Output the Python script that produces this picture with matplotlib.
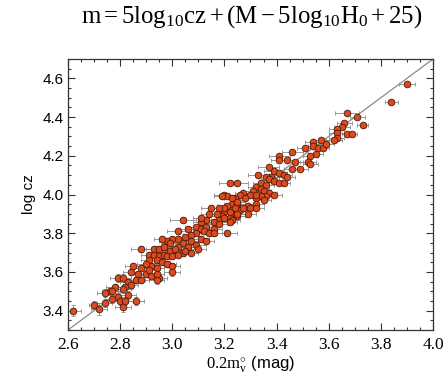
import matplotlib
matplotlib.use("Agg")
import matplotlib.pyplot as plt
from matplotlib.ticker import MultipleLocator

plt.rcParams['mathtext.fontset'] = 'custom'
plt.rcParams['mathtext.rm'] = 'Liberation Serif'
plt.rcParams['mathtext.it'] = 'Liberation Serif:italic'
plt.rcParams['mathtext.bf'] = 'Liberation Serif:bold'

# 0.2 m_v (mag)
mag02 = [
    3.90, 3.84, 3.67, 3.71, 3.73, 3.66, 3.65, 3.63, 3.63, 3.67, 3.69, 3.63, 3.62, 3.57, 3.54, 3.54, 3.56, 3.58, 3.59, 3.51,
    3.46, 3.55, 3.53, 3.41, 3.41, 3.44, 3.47, 3.52, 3.53, 3.49, 3.46, 3.39, 3.41, 3.43, 3.38, 3.44, 3.37, 3.33, 3.25, 3.22,
    3.36, 3.37, 3.39, 3.41, 3.43, 3.34, 3.36, 3.32, 3.34, 3.35, 3.31, 3.30, 3.27, 3.26, 3.37, 3.39, 3.36, 3.34, 3.32, 3.35,
    3.28, 3.24, 3.20, 3.21, 3.23, 3.25, 3.29, 3.32, 3.30, 3.26, 3.21, 3.20, 3.23, 3.25, 3.22, 3.19,
    3.32, 3.23, 3.25, 3.20, 3.24, 3.27, 3.32, 3.18, 3.15, 3.14, 3.17, 3.22, 3.25, 3.29, 3.18, 3.20, 3.23, 3.16, 3.18, 3.22,
    3.13, 3.11, 3.11, 3.04, 3.06, 3.09, 3.11, 3.13, 3.16, 3.12, 3.14, 3.09, 3.07, 3.05, 3.02, 3.02, 3.04, 3.07, 3.11, 3.13,
    3.16, 3.21, 3.02, 3.06, 3.09, 3.00, 3.04, 3.07, 3.10, 3.19,
    3.00, 2.98, 2.99, 2.96, 2.93, 2.95, 2.97, 2.99, 3.01, 3.05, 2.88, 2.91, 2.93, 2.95, 2.97, 2.98, 3.00, 3.02, 2.91, 2.94,
    2.96, 2.98, 3.00, 3.00, 2.94, 2.92, 2.90, 2.88, 2.85, 2.84, 2.87, 2.90, 2.92, 2.95, 2.94, 2.83, 2.86, 2.82, 2.81, 2.88,
    2.91, 2.94, 2.79, 2.81, 2.84, 2.78, 2.76, 2.74, 2.77, 2.79, 2.77, 2.83, 2.80, 2.82, 2.86, 2.74, 2.81, 2.70, 2.72, 2.62,
]

# log cz
log_cz = [
    4.57, 4.48, 4.42, 4.40, 4.36, 4.37, 4.35, 4.34, 4.32, 4.31, 4.31, 4.29, 4.28, 4.28, 4.27, 4.25, 4.24, 4.24, 4.26, 4.24,
    4.22, 4.21, 4.20, 4.20, 4.18, 4.18, 4.17, 4.17, 4.16, 4.13, 4.13, 4.12, 4.11, 4.10, 4.09, 4.09, 4.14, 4.10, 4.06, 4.06,
    4.09, 4.08, 4.07, 4.06, 4.06, 4.06, 4.05, 4.04, 4.03, 4.02, 4.02, 4.00, 4.01, 4.00, 4.01, 4.00, 3.99, 3.99, 3.98, 3.97,
    3.98, 3.98, 4.00, 3.99, 3.95, 3.95, 3.94, 3.95, 3.93, 3.92, 3.94, 3.91, 3.90, 3.89, 3.88, 3.89,
    4.00, 3.98, 3.96, 3.93, 3.93, 3.93, 3.93, 3.93, 3.93, 3.90, 3.90, 3.91, 3.90, 3.90, 3.87, 3.88, 3.87, 3.86, 3.85, 3.86,
    3.87, 3.86, 3.88, 3.87, 3.82, 3.83, 3.82, 3.83, 3.82, 3.81, 3.80, 3.80, 3.79, 3.78, 3.81, 3.77, 3.75, 3.76, 3.77, 3.76,
    3.80, 3.80, 3.73, 3.73, 3.74, 3.71, 3.70, 3.70, 3.72, 3.99,
    3.77, 3.76, 3.75, 3.77, 3.72, 3.72, 3.73, 3.71, 3.72, 3.71, 3.72, 3.69, 3.69, 3.68, 3.69, 3.68, 3.68, 3.69, 3.66, 3.66,
    3.65, 3.64, 3.63, 3.60, 3.62, 3.63, 3.64, 3.62, 3.63, 3.60, 3.59, 3.59, 3.58, 3.57, 3.56, 3.55, 3.56, 3.52, 3.51, 3.56,
    3.61, 3.59, 3.57, 3.57, 3.53, 3.52, 3.50, 3.49, 3.50, 3.47, 3.46, 3.48, 3.45, 3.45, 3.45, 3.44, 3.42, 3.43, 3.41, 3.40,
]

mag_err = [
    0.030, 0.025, 0.045, 0.030, 0.020, 0.030, 0.030, 0.030, 0.030, 0.020, 0.020, 0.030, 0.030, 0.030, 0.030, 0.020, 0.030, 0.020, 0.030, 0.030,
    0.040, 0.030, 0.030, 0.040, 0.030, 0.040, 0.030, 0.030, 0.030, 0.030, 0.030, 0.040, 0.030, 0.030, 0.030, 0.030, 0.040, 0.040, 0.040, 0.040,
    0.030, 0.030, 0.030, 0.030, 0.020, 0.030, 0.030, 0.030, 0.030, 0.030, 0.040, 0.030, 0.030, 0.040, 0.030, 0.030, 0.030, 0.030, 0.030, 0.030,
    0.030, 0.040, 0.040, 0.030, 0.030, 0.030, 0.030, 0.030, 0.030, 0.030, 0.040, 0.030, 0.030, 0.030, 0.030, 0.040,
    0.030, 0.030, 0.030, 0.030, 0.030, 0.030, 0.030, 0.030, 0.040, 0.030, 0.030, 0.030, 0.030, 0.030, 0.030, 0.030, 0.030, 0.030, 0.030, 0.030,
    0.030, 0.030, 0.030, 0.050, 0.030, 0.040, 0.030, 0.030, 0.030, 0.030, 0.030, 0.030, 0.030, 0.030, 0.040, 0.030, 0.030, 0.030, 0.030, 0.030,
    0.030, 0.040, 0.030, 0.030, 0.040, 0.030, 0.030, 0.030, 0.030, 0.030,
    0.030, 0.030, 0.035, 0.030, 0.030, 0.025, 0.030, 0.030, 0.030, 0.030, 0.040, 0.030, 0.030, 0.035, 0.030, 0.030, 0.030, 0.030, 0.030, 0.030,
    0.030, 0.035, 0.030, 0.030, 0.030, 0.030, 0.035, 0.030, 0.030, 0.030, 0.030, 0.030, 0.030, 0.030, 0.030, 0.030, 0.035, 0.030, 0.030, 0.030,
    0.030, 0.030, 0.030, 0.030, 0.030, 0.035, 0.030, 0.030, 0.030, 0.030, 0.030, 0.030, 0.030, 0.030, 0.030, 0.030, 0.030, 0.020, 0.030, 0.030,
]

logcz_err = [
    0.010, 0.010, 0.010, 0.010, 0.010, 0.010, 0.010, 0.010, 0.010, 0.010, 0.010, 0.010, 0.010, 0.010, 0.010, 0.010, 0.010, 0.010, 0.010, 0.010,
    0.010, 0.010, 0.010, 0.010, 0.010, 0.010, 0.010, 0.010, 0.010, 0.010, 0.010, 0.010, 0.010, 0.010, 0.010, 0.010, 0.010, 0.010, 0.010, 0.010,
    0.010, 0.010, 0.010, 0.010, 0.010, 0.010, 0.010, 0.010, 0.010, 0.010, 0.010, 0.010, 0.010, 0.010, 0.010, 0.010, 0.010, 0.010, 0.010, 0.010,
    0.010, 0.010, 0.010, 0.010, 0.010, 0.010, 0.010, 0.010, 0.010, 0.010, 0.010, 0.010, 0.010, 0.010, 0.010, 0.010,
    0.015, 0.015, 0.015, 0.015, 0.015, 0.015, 0.015, 0.015, 0.015, 0.015, 0.015, 0.015, 0.015, 0.015, 0.015, 0.015, 0.015, 0.015, 0.015, 0.015,
    0.015, 0.015, 0.015, 0.015, 0.015, 0.015, 0.015, 0.015, 0.015, 0.015, 0.015, 0.015, 0.015, 0.015, 0.015, 0.015, 0.015, 0.015, 0.015, 0.015,
    0.015, 0.015, 0.015, 0.015, 0.015, 0.015, 0.015, 0.015, 0.015, 0.015,
    0.015, 0.015, 0.015, 0.015, 0.015, 0.015, 0.015, 0.015, 0.015, 0.015, 0.015, 0.015, 0.015, 0.015, 0.015, 0.015, 0.015, 0.015, 0.015, 0.015,
    0.015, 0.015, 0.015, 0.020, 0.015, 0.015, 0.015, 0.015, 0.015, 0.015, 0.015, 0.015, 0.015, 0.015, 0.020, 0.015, 0.015, 0.020, 0.020, 0.015,
    0.015, 0.015, 0.020, 0.020, 0.020, 0.020, 0.020, 0.020, 0.020, 0.020, 0.020, 0.020, 0.020, 0.020, 0.020, 0.020, 0.025, 0.020, 0.030, 0.030,
]

# reference relation: log cz = 0.2 m + 0.7
line_x = [2.6, 4.0]
line_y = [3.3, 4.7]

x_ticks = [2.6, 2.8, 3.0, 3.2, 3.4, 3.6, 3.8, 4.0]
y_ticks = [3.4, 3.6, 3.8, 4.0, 4.2, 4.4, 4.6]

fig = plt.figure(figsize=(4.48, 3.79), dpi=100)
ax = fig.add_axes([0.1518, 0.1293, 0.8147, 0.715])

ax.plot(line_x, line_y, color='#8a8a8a', lw=0.9, zorder=1)
ax.errorbar(mag02, log_cz, xerr=mag_err, yerr=logcz_err, fmt='o',
            ms=4.8, mfc='#dc4a1e', mec='#4a1a0a', mew=0.6,
            ecolor='#8c8c8c', elinewidth=0.6, capsize=1.6, capthick=0.6, zorder=2)

ax.set_xlim(2.6, 4.0)
ax.set_ylim(3.3, 4.7)
ax.set_xticks(x_ticks)
ax.set_xticklabels([f"{t:.1f}" for t in x_ticks], family='Liberation Serif', fontsize=12.5)
ax.set_yticks(y_ticks)
ax.set_yticklabels([f"{t:.1f}" for t in y_ticks], family='Liberation Sans', fontsize=11)
ax.xaxis.set_minor_locator(MultipleLocator(0.05))
ax.yaxis.set_minor_locator(MultipleLocator(0.05))
ax.tick_params(which='both', direction='in', top=True, right=True, color='#333333', width=0.8)
ax.tick_params(which='major', length=5)
ax.tick_params(which='minor', length=2.5)
ax.tick_params(axis='x', pad=5)
ax.tick_params(axis='y', pad=3)
for s in ax.spines.values():
    s.set_color('#333333')
    s.set_linewidth(0.9)

ax.set_xlabel(r'$\mathrm{0.2m_v^{\circ}}$ (mag)', family='Liberation Sans', fontsize=12, labelpad=1)
ax.set_ylabel('log cz', family='Liberation Sans', fontsize=11, labelpad=5)

fig.text(0.562, 0.955,
         r'$\mathrm{m} = \mathrm{5log}_{10}\mathrm{cz} + (\mathrm{M} - \mathrm{5log}_{10}\mathrm{H}_0 + 25)$',
         ha='center', va='center', fontsize=17.8)

fig.savefig('out.png', dpi=100)
